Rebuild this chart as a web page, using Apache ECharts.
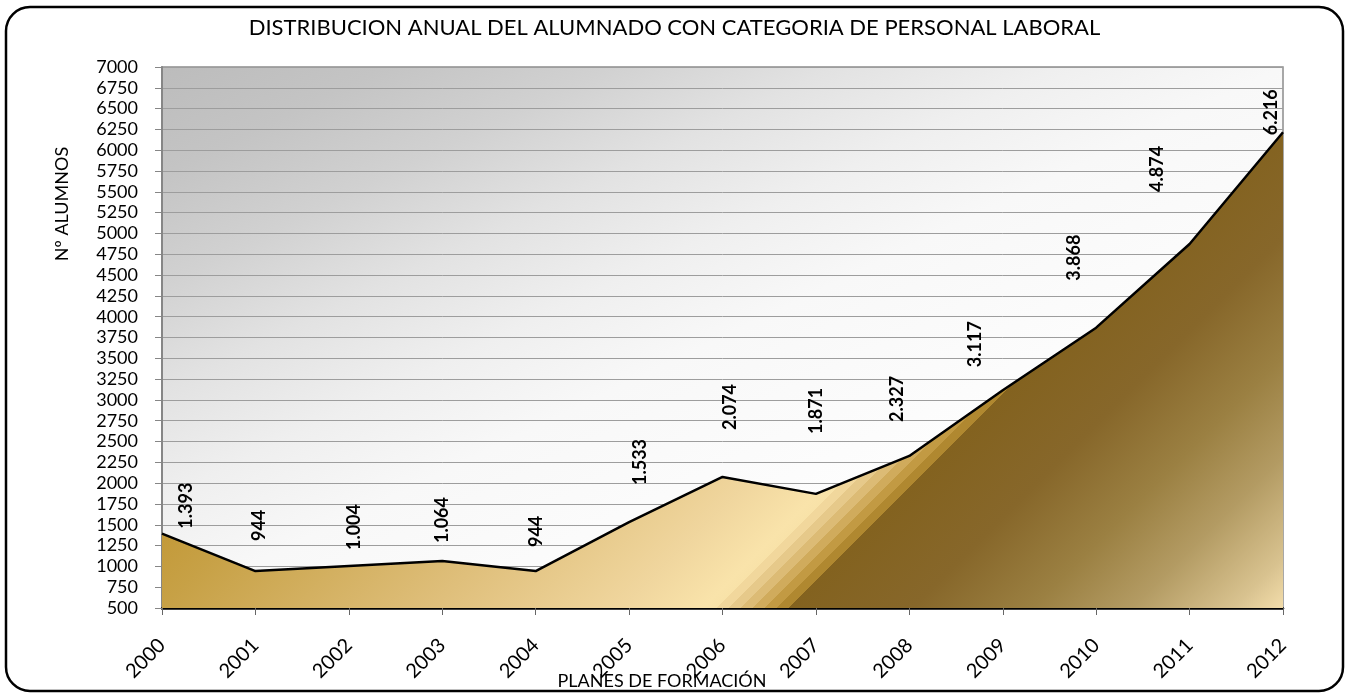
<!DOCTYPE html>
<html>
<head>
<meta charset="utf-8">
<script src="https://cdn.jsdelivr.net/npm/echarts@6/dist/echarts.min.js"></script>
<style>html,body{margin:0;padding:0;background:#fff;}#c{width:1349px;height:693px;}</style>
</head>
<body>
<div id="c"></div>
<script>
const years = ['2000','2001','2002','2003','2004','2005','2006','2007','2008','2009','2010','2011','2012'];
const alumnos = [1393, 944, 1004, 1064, 944, 1533, 2074, 1871, 2327, 3117, 3868, 4874, 6216];
const titleText = 'DISTRIBUCION ANUAL DEL ALUMNADO CON CATEGORIA DE PERSONAL LABORAL';
const yName = 'Nº ALUMNOS';
const xName = 'PLANES DE FORMACIÓN';

// label styling (gap above point, horizontal shift) - presentation only
const labelGap = [5, 30, 16, 18, 24, 37, 47, 60, 34, 23, 47, 52, -3];
const labelShift = [24, 4, 5, 0, 1, 11, 8, 0, -12, -28, -22, -32, -12];

const FONT = 'Lato';
function fmt(v) { return String(v).replace(/\B(?=(\d{3})+(?!\d))/g, '.'); }

const chart = echarts.init(document.getElementById('c'), null, {renderer: 'canvas'});

const areaGrad = {
  type: 'linear', x: 0, y: 0, x2: 1000, y2: 1000, global: true,
  colorStops: [
    {offset: 0, color: '#b8902f'},
    {offset: 0.35, color: '#c39a3a'},
    {offset: 0.385, color: '#c7a146'},
    {offset: 0.52, color: '#dfbf7b'},
    {offset: 0.615, color: '#f0d69e'},
    {offset: 0.655, color: '#f9e3aa'},
    {offset: 0.662, color: '#f8e2a8'},
    {offset: 0.662, color: '#f1d79c'},
    {offset: 0.668, color: '#f1d79c'},
    {offset: 0.668, color: '#e6c98a'},
    {offset: 0.674, color: '#e6c98a'},
    {offset: 0.674, color: '#dcbb75'},
    {offset: 0.680, color: '#dcbb75'},
    {offset: 0.680, color: '#d0ab5c'},
    {offset: 0.686, color: '#d0ab5c'},
    {offset: 0.686, color: '#c29a43'},
    {offset: 0.692, color: '#c29a43'},
    {offset: 0.692, color: '#b08830'},
    {offset: 0.698, color: '#b08830'},
    {offset: 0.698, color: '#83621f'},
    {offset: 0.76, color: '#87672a'},
    {offset: 0.82, color: '#9b8042'},
    {offset: 0.87, color: '#b39b63'},
    {offset: 0.92, color: '#d8c28f'},
    {offset: 0.945, color: '#f2dcaa'},
    {offset: 1, color: '#f8e4b4'}
  ]
};

const bgGrad = {
  type: 'linear', x: 162, y: 67, x2: 585, y2: 944, global: true,
  colorStops: [
    {offset: 0, color: '#bcbcbc'},
    {offset: 0.1, color: '#c4c4c4'},
    {offset: 0.2, color: '#d1d1d1'},
    {offset: 0.3, color: '#e2e2e2'},
    {offset: 0.4, color: '#efefef'},
    {offset: 0.5, color: '#f8f8f8'},
    {offset: 0.7, color: '#fdfdfd'},
    {offset: 1, color: '#ffffff'}
  ]
};

chart.setOption({
  animation: false,
  backgroundColor: '#ffffff',
  title: {
    text: titleText, left: 'center', top: 17, padding: 0,
    textStyle: {fontFamily: FONT, fontSize: 22, fontWeight: 'normal', color: '#000'}
  },
  grid: {
    left: 162, right: 66, top: 67, bottom: 85,
    show: true, backgroundColor: bgGrad, borderColor: '#8c8c8c', borderWidth: 1.5
  },
  xAxis: {
    type: 'category', data: years, boundaryGap: false,
    axisLine: {show: true, lineStyle: {color: '#000', width: 2.5}},
    axisTick: {show: true, length: 7, inside: false, lineStyle: {color: '#666', width: 1}},
    axisLabel: {rotate: 45, margin: 34, fontFamily: FONT, fontSize: 20, color: '#000', interval: 0},
    splitLine: {show: false}
  },
  yAxis: {
    type: 'value', min: 500, max: 7000, interval: 250,
    axisLine: {show: true, lineStyle: {color: '#868686', width: 2}},
    axisTick: {show: true, length: 7, lineStyle: {color: '#868686', width: 1}},
    axisLabel: {margin: 24, fontFamily: FONT, fontSize: 18, color: '#000', formatter: v => String(v)},
    splitLine: {show: true, lineStyle: {color: '#9d9d9d', width: 1}}
  },
  graphic: [
    {
      type: 'rect', z: 100, silent: true,
      shape: {x: 6, y: 7, width: 1337, height: 684, r: 24},
      style: {fill: 'none', stroke: '#000', lineWidth: 2.5}
    },
    {
      type: 'text', z: 100, x: 62, y: 204, rotation: Math.PI / 2,
      style: {text: yName, fontFamily: FONT, fontSize: 18, fill: '#000', align: 'center', verticalAlign: 'middle'}
    },
    {
      type: 'text', z: 100, x: 662, y: 681,
      style: {text: xName, fontFamily: FONT, fontSize: 18, fill: '#000', align: 'center', verticalAlign: 'middle'}
    }
  ],
  series: [{
    type: 'line',
    data: alumnos,
    symbol: 'circle',
    symbolSize: 0,
    showSymbol: true,
    lineStyle: {color: '#000', width: 2.5},
    itemStyle: {color: '#000'},
    areaStyle: {color: areaGrad, opacity: 1},
    label: {
      show: true, position: 'top', distance: 0, rotate: 90,
      align: 'left', verticalAlign: 'middle',
      fontFamily: FONT, fontSize: 18, fontWeight: 'bold', color: '#000',
      formatter: p => fmt(p.value)
    },
    // with the 90° rotation, dx/dy act in the label's rotated frame
    labelLayout: p => ({dx: labelGap[p.dataIndex], dy: labelShift[p.dataIndex], hideOverlap: false}),
    z: 3
  }]
});
</script>
</body>
</html>
